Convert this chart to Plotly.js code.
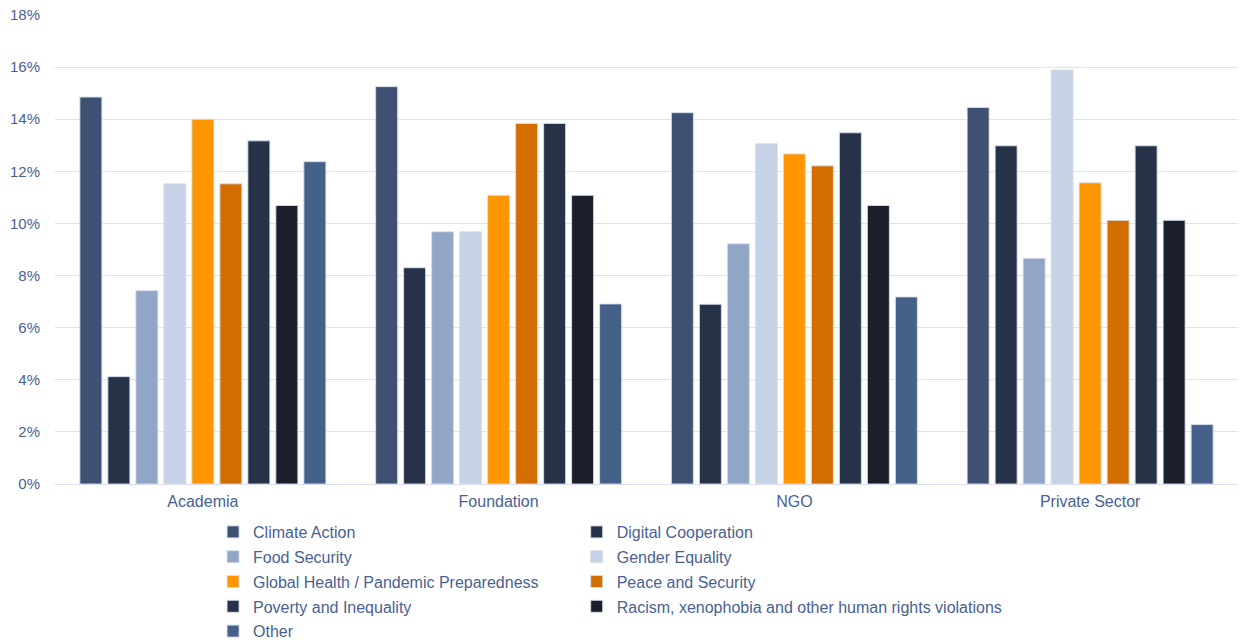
<!DOCTYPE html>
<html>
<head>
<meta charset="utf-8">
<script src="https://cdn.plot.ly/plotly-3.0.1.min.js"></script>
<style>html,body{margin:0;padding:0;background:#fff;}#chart{width:1239px;height:641px;}</style>
</head>
<body>
<div id="chart"></div>
<script>
const categories = ["Academia", "Foundation", "NGO", "Private Sector"];

const seriesNames = [
  "Climate Action",
  "Digital Cooperation",
  "Food Security",
  "Gender Equality",
  "Global Health / Pandemic Preparedness",
  "Peace and Security",
  "Poverty and Inequality",
  "Racism, xenophobia and other human rights violations",
  "Other"
];

const climateAction   = [14.85, 15.25, 14.25, 14.45];
const digitalCoop     = [4.12, 8.30, 6.90, 12.98];
const foodSecurity    = [7.42, 9.68, 9.22, 8.66];
const genderEquality  = [11.52, 9.68, 13.06, 15.89];
const globalHealth    = [14.00, 11.08, 12.67, 11.56];
const peaceSecurity   = [11.52, 13.84, 12.21, 10.12];
const povertyIneq     = [13.17, 13.84, 13.48, 12.98];
const racism          = [10.69, 11.08, 10.69, 10.12];
const other           = [12.37, 6.91, 7.18, 2.28];

const seriesValues = [climateAction, digitalCoop, foodSecurity, genderEquality,
  globalHealth, peaceSecurity, povertyIneq, racism, other];

const colors = ["#3e5173", "#263247", "#91a6c6", "#c6d3e6", "#ff9600",
  "#d26e00", "#263247", "#1a1f2b", "#45618a"];

const legendOf = ["legend", "legend2", "legend", "legend2", "legend",
  "legend2", "legend", "legend2", "legend"];

const textColor = "#4a5f93";

const traces = seriesNames.map((name, i) => ({
  type: "bar",
  name: name,
  x: categories,
  y: seriesValues[i].map(v => v / 100),
  marker: {color: colors[i], line: {color: "rgba(215,222,236,0.9)", width: 1}},
  legend: legendOf[i],
  legendgroup: "g" + i,
  hoverinfo: "x+y+name"
}));

const legendCommon = {
  orientation: "v",
  xanchor: "left",
  yanchor: "top",
  yref: "container",
  y: 0.1966,
  bgcolor: "rgba(0,0,0,0)",
  font: {family: "Liberation Sans, Arial, sans-serif", size: 16, color: textColor},
  tracegroupgap: 1,
  itemwidth: 30
};

const layout = {
  width: 1239,
  height: 641,
  margin: {l: 55, r: 1, t: 15, b: 157},
  paper_bgcolor: "#ffffff",
  plot_bgcolor: "#ffffff",
  barmode: "group",
  bargap: 0.148,
  bargroupgap: 0.214,
  font: {family: "Liberation Sans, Arial, sans-serif", color: textColor},
  xaxis: {
    type: "category",
    showgrid: false,
    showline: true,
    linecolor: "#d9dfee",
    linewidth: 1,
    ticks: "",
    tickfont: {size: 16, color: textColor},
    ticklabelstandoff: 3
  },
  yaxis: {
    range: [0, 0.18],
    dtick: 0.02,
    tickformat: ".0%",
    showgrid: true,
    gridcolor: "#dde2f0",
    gridwidth: 1,
    zeroline: false,
    showline: false,
    ticks: "",
    tickfont: {size: 15, color: textColor},
    ticklabelstandoff: 14
  },
  legend: Object.assign({}, legendCommon, {x: 0.1336}),
  legend2: Object.assign({}, legendCommon, {x: 0.441}),
  showlegend: true
};

Plotly.newPlot("chart", traces, layout, {displayModeBar: false, staticPlot: true});
</script>
</body>
</html>
